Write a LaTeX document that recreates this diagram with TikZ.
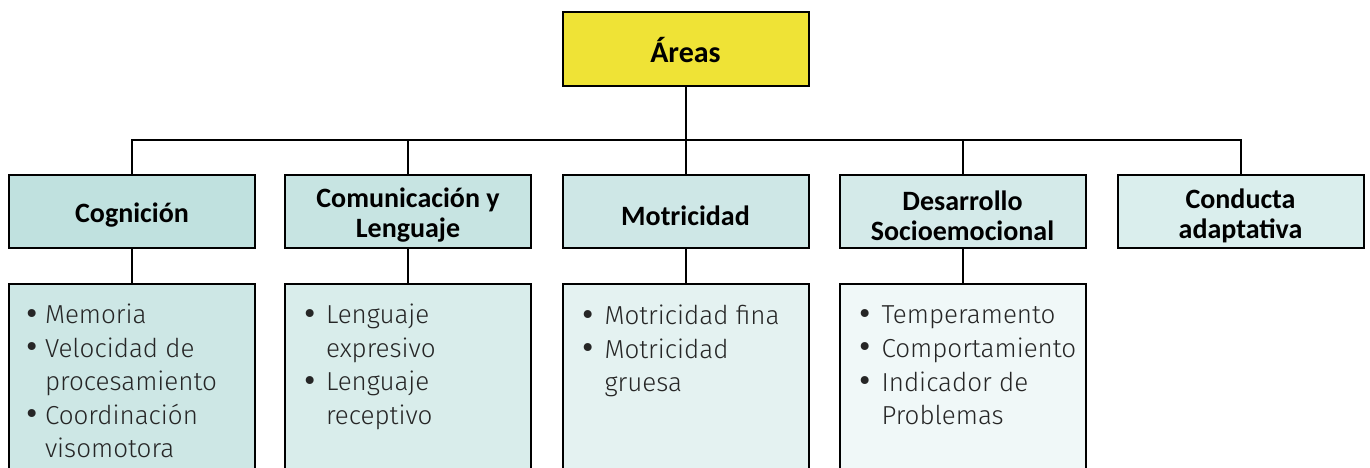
\documentclass[tikz,border=0pt]{standalone}
\usepackage{fontspec}
\usepackage{graphicx}
\setmainfont{Carlito}
\newfontfamily\lightfont{Fira Sans Light}
\newfontfamily\regfont{Fira Sans}
\definecolor{yel}{HTML}{EFE336}
\definecolor{hA}{HTML}{C0E1DF}
\definecolor{hB}{HTML}{C7E4E2}
\definecolor{hC}{HTML}{CEE7E6}
\definecolor{hD}{HTML}{D4EAE9}
\definecolor{hE}{HTML}{DAEEED}
\definecolor{bA}{HTML}{CDE7E5}
\definecolor{bB}{HTML}{D9EDEB}
\definecolor{bC}{HTML}{E4F2F1}
\definecolor{bD}{HTML}{F0F8F8}
\definecolor{txt}{HTML}{262626}
\newcommand\bl[2]{\makebox[#1][l]{\raisebox{-1.5pt}{\regfont\scalebox{1.35}{•}}}#2}
\newcommand\ind[2]{\hspace*{#1}#2}
\begin{document}
\begin{tikzpicture}[x=1pt,y=-1pt,
  line width=2pt,
  boxbase/.style={draw=black, rectangle, minimum width=246pt, inner sep=0pt},
  topbox/.style={boxbase, fill=yel, minimum height=74pt},
  toptext/.style={inner sep=0pt, font=\fontsize{30}{34}\selectfont\bfseries},
  headbox/.style={boxbase, minimum height=73pt},
  headtext/.style={inner sep=0pt, align=center, font=\fontsize{28}{30}\selectfont\bfseries},
  listbox/.style={boxbase, anchor=north, minimum height=260pt},
  listtext/.style={anchor=north west, inner sep=0pt, align=left, text=txt, font=\lightfont\fontsize{26}{33.6}\selectfont},
  conn/.style={draw=black, line width=2pt}
]
\useasboundingbox (0,0) rectangle (1370,468);
\clip (0,0) rectangle (1370,468);

\node[topbox] (areas) at (685.5,49) {};
\node[toptext] (areasT) at ([yshift=-1pt]areas.center) {Áreas};

\node[headbox, fill=hA] (c1) at (132,211.5) {};
\node[headbox, fill=hB] (c2) at (408,211.5) {};
\node[headbox, fill=hC] (c3) at (685.5,211.5) {};
\node[headbox, fill=hD] (c4) at (962.5,211.5) {};
\node[headbox, fill=hE] (c5) at (1240.5,211.5) {};
\node[headtext] (c1T) at ([yshift=-4pt]c1.center) {Cognición};
\node[headtext] (c2T) at ([yshift=-4pt]c2.center) {Comunicación y\\Lenguaje};
\node[headtext] (c3T) at ([yshift=-4pt]c3.center) {Motricidad};
\node[headtext] (c4T) at ([yshift=-4pt]c4.center) {Desarrollo\\Socioemocional};
\node[headtext] (c5T) at ([yshift=-4pt]c5.center) {Conducta\\adaptativa};

\node[listbox, fill=bA] (l1) at (132,283) {};
\node[listbox, fill=bB] (l2) at (408,283) {};
\node[listbox, fill=bC] (l3) at (685.5,283) {};
\node[listbox, fill=bD] (l4) at (962.5,283) {};

\coordinate (bar) at (685.5,140);

\draw[conn] (areas.south) -- (bar);
\draw[conn] (c1.north) -- (c1.north |- bar) -- (c5.north |- bar) -- (c5.north);
\draw[conn] (c2.north) -- (c2.north |- bar);
\draw[conn] (c3.north) -- (c3.north |- bar);
\draw[conn] (c4.north) -- (c4.north |- bar);

\draw[conn] (c1.south) -- (l1.north);
\draw[conn] (c2.south) -- (l2.north);
\draw[conn] (c3.south) -- (l3.north);
\draw[conn] (c4.south) -- (l4.north);

\node[listtext] (t1) at ([xshift=18pt,yshift=-20pt]l1.north west)
  {\bl{18pt}{Memoria}\\\bl{18pt}{Velocidad de}\\\ind{18pt}{procesamiento}\\\bl{18pt}{Coordinación}\\\ind{18pt}{visomotora}};
\node[listtext] (t2) at ([xshift=19pt,yshift=-20pt]l2.north west)
  {\bl{22pt}{Lenguaje}\\\ind{22pt}{expresivo}\\\bl{22pt}{Lenguaje}\\\ind{22pt}{receptivo}};
\node[listtext] (t3) at ([xshift=20pt,yshift=-21pt]l3.north west)
  {\bl{22pt}{Motricidad fina}\\\bl{22pt}{Motricidad}\\\ind{22pt}{gruesa}};
\node[listtext] (t4) at ([xshift=20pt,yshift=-22pt]l4.north west)
  {\bl{22pt}{Temperamento}\\\bl{22pt}{Comportamiento}\\\bl{22pt}{Indicador de}\\\ind{22pt}{Problemas}};
\end{tikzpicture}
\end{document}
